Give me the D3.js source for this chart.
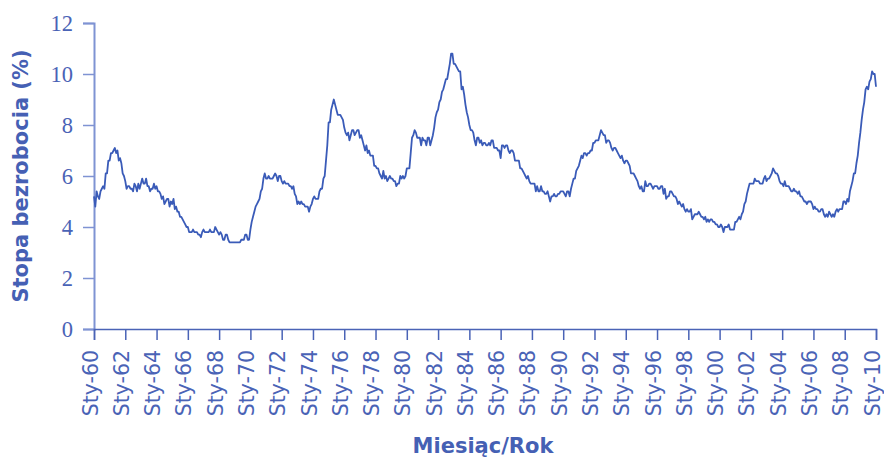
<!DOCTYPE html>
<html>
<head>
<meta charset="utf-8">
<script src="https://cdn.jsdelivr.net/npm/d3@7"></script>
<style>
  html, body { margin: 0; padding: 0; background: #fff; }
  svg { display: block; }
</style>
</head>
<body>
<svg id="chart" width="884" height="458"></svg>
<script>
// Monthly unemployment rate (%), starting Jan 1960
const u1960s = [
  5.2,4.8,5.4,5.2,5.1,5.4,5.5,5.6,5.5,6.1,6.1,6.6,
  6.6,6.9,6.9,7.0,7.1,6.9,7.0,6.6,6.7,6.5,6.1,6.0,
  5.8,5.5,5.6,5.6,5.5,5.5,5.4,5.7,5.6,5.4,5.7,5.5,
  5.7,5.9,5.7,5.7,5.9,5.6,5.6,5.4,5.5,5.5,5.7,5.5,
  5.6,5.4,5.4,5.3,5.1,5.2,4.9,5.0,5.1,5.1,4.8,5.0,
  4.9,5.1,4.7,4.8,4.6,4.6,4.4,4.4,4.3,4.2,4.1,4.0,
  4.0,3.8,3.8,3.8,3.9,3.8,3.8,3.8,3.7,3.7,3.6,3.8,
  3.9,3.8,3.8,3.8,3.8,3.9,3.8,3.8,3.8,4.0,3.9,3.8,
  3.7,3.8,3.7,3.5,3.5,3.7,3.7,3.5,3.4,3.4,3.4,3.4,
  3.4,3.4,3.4,3.4,3.4,3.5,3.5,3.5,3.7,3.7,3.5,3.5
];
const u1970s = [
  3.9,4.2,4.4,4.6,4.8,4.9,5.0,5.1,5.4,5.5,5.9,6.1,
  5.9,5.9,6.0,5.9,5.9,5.9,6.0,6.1,6.0,5.8,6.0,6.0,
  5.8,5.7,5.8,5.7,5.7,5.7,5.6,5.6,5.5,5.6,5.3,5.2,
  4.9,5.0,4.9,5.0,4.9,4.9,4.8,4.8,4.8,4.6,4.8,4.9,
  5.1,5.2,5.1,5.1,5.1,5.4,5.5,5.5,5.9,6.0,6.6,7.2,
  8.1,8.1,8.6,8.8,9.0,8.8,8.6,8.4,8.4,8.4,8.3,8.2,
  7.9,7.7,7.6,7.7,7.4,7.6,7.8,7.8,7.6,7.7,7.8,7.8,
  7.5,7.6,7.4,7.2,7.0,7.2,6.9,7.0,6.8,6.8,6.8,6.4,
  6.4,6.3,6.3,6.1,6.0,5.9,6.2,5.9,6.0,5.8,5.9,6.0,
  5.9,5.9,5.8,5.8,5.6,5.7,5.7,6.0,5.9,6.0,5.9,6.0
];
const u1980s = [
  6.3,6.3,6.3,6.9,7.5,7.6,7.8,7.7,7.5,7.5,7.5,7.2,
  7.5,7.4,7.4,7.2,7.5,7.5,7.2,7.4,7.6,7.9,8.3,8.5,
  8.6,8.9,9.0,9.3,9.4,9.6,9.8,9.8,10.1,10.4,10.8,10.8,
  10.4,10.4,10.3,10.2,10.1,10.1,9.4,9.5,9.2,8.8,8.5,8.3,
  8.0,7.8,7.8,7.7,7.4,7.2,7.5,7.5,7.3,7.4,7.2,7.3,
  7.3,7.2,7.2,7.3,7.2,7.4,7.4,7.1,7.1,7.1,7.0,7.0,
  6.7,7.2,7.2,7.1,7.2,7.2,7.0,6.9,7.0,7.0,6.9,6.6,
  6.6,6.6,6.6,6.3,6.3,6.2,6.1,6.0,5.9,6.0,5.8,5.7,
  5.7,5.7,5.7,5.4,5.6,5.4,5.4,5.6,5.4,5.4,5.3,5.3,
  5.4,5.2,5.0,5.2,5.2,5.3,5.2,5.2,5.3,5.3,5.4,5.4
];
const u1990s = [
  5.4,5.3,5.2,5.4,5.4,5.2,5.5,5.7,5.9,5.9,6.2,6.3,
  6.4,6.6,6.8,6.7,6.9,6.9,6.8,6.9,6.9,7.0,7.0,7.3,
  7.3,7.4,7.4,7.4,7.6,7.8,7.7,7.6,7.6,7.3,7.4,7.4,
  7.3,7.1,7.0,7.1,7.1,7.0,6.9,6.8,6.7,6.8,6.6,6.5,
  6.6,6.6,6.5,6.4,6.1,6.1,6.1,6.0,5.9,5.8,5.6,5.5,
  5.6,5.4,5.4,5.8,5.6,5.6,5.7,5.7,5.6,5.5,5.6,5.6,
  5.6,5.5,5.5,5.6,5.6,5.3,5.5,5.1,5.2,5.2,5.4,5.4,
  5.3,5.2,5.2,5.1,4.9,5.0,4.9,4.8,4.9,4.7,4.6,4.7,
  4.6,4.6,4.7,4.3,4.4,4.5,4.5,4.5,4.6,4.5,4.4,4.4,
  4.3,4.4,4.2,4.3,4.2,4.3,4.3,4.2,4.2,4.1,4.1,4.0
];
const u2000s = [
  4.0,4.1,4.0,3.8,4.0,4.0,4.0,4.1,3.9,3.9,3.9,3.9,
  4.2,4.2,4.3,4.4,4.3,4.5,4.6,4.9,5.0,5.3,5.5,5.7,
  5.7,5.7,5.7,5.9,5.8,5.8,5.8,5.7,5.7,5.7,5.9,6.0,
  5.8,5.9,5.9,6.0,6.1,6.3,6.2,6.1,6.1,6.0,5.8,5.7,
  5.7,5.6,5.8,5.6,5.6,5.6,5.5,5.4,5.4,5.5,5.4,5.4,
  5.3,5.4,5.2,5.2,5.1,5.0,5.0,4.9,5.0,5.0,5.0,4.9,
  4.7,4.8,4.7,4.7,4.6,4.6,4.7,4.7,4.5,4.4,4.5,4.4,
  4.6,4.5,4.4,4.5,4.4,4.6,4.7,4.6,4.7,4.7,4.7,5.0,
  5.0,4.9,5.1,5.0,5.4,5.6,5.8,6.1,6.1,6.5,6.8,7.3,
  7.7,8.2,8.6,8.9,9.4,9.5,9.4,9.7,9.8,10.1,10.0,10.0
];
const u2010s = [9.5];

const yTicks = [0, 2, 4, 6, 8, 10, 12];
const xTickYears = d3.range(1960, 2011, 2);
const xTickLabels = xTickYears.map(yr => "Sty-" + String(yr % 100).padStart(2, "0"));

const values = [].concat(u1960s, u1970s, u1980s, u1990s, u2000s, u2010s);
const data = values.map((v, i) => ({ m: i, v: v }));

const svg = d3.select("#chart");
const pLeft = 94, pRight = 876, pTop = 23, pBottom = 329;

const x = d3.scaleLinear().domain([0, 600]).range([pLeft, pRight]);
const y = d3.scaleLinear().domain([0, 12]).range([pBottom, pTop]);

const textCol = "#4a63b6";

// Y axis
const yAxis = svg.append("g")
  .attr("transform", `translate(${pLeft},0)`)
  .call(d3.axisLeft(y).tickValues(yTicks).tickSize(11).tickPadding(10).tickFormat(d3.format("d")));
yAxis.select(".domain").attr("stroke", "#7f93d3").attr("stroke-width", 2);
yAxis.selectAll(".tick line").attr("stroke", "#7f93d3").attr("stroke-width", 1.5);
yAxis.selectAll(".tick text")
  .attr("fill", textCol)
  .style("font-family", "'Liberation Serif', serif")
  .style("font-size", "22.5px");

// X axis
const xAxis = svg.append("g")
  .attr("transform", `translate(0,${pBottom})`)
  .call(d3.axisBottom(x)
    .tickValues(xTickYears.map(yr => (yr - 1960) * 12))
    .tickSize(11)
    .tickFormat((d, i) => xTickLabels[i]));
xAxis.select(".domain").attr("stroke", "#4a63b6").attr("stroke-width", 1.5);
xAxis.selectAll(".tick line").attr("stroke", "#4a63b6").attr("stroke-width", 1.5);
xAxis.selectAll(".tick text")
  .attr("fill", textCol)
  .style("font-family", "'DejaVu Sans', sans-serif")
  .style("font-size", "20.5px")
  .attr("transform", "rotate(-90)")
  .attr("text-anchor", "end")
  .attr("x", -21)
  .attr("y", 0)
  .attr("dy", "0.15em");

// Line
const line = d3.line().x(d => x(d.m)).y(d => y(d.v));
svg.append("path")
  .datum(data)
  .attr("fill", "none")
  .attr("stroke", "#3a5bb8")
  .attr("stroke-width", 1.8)
  .attr("stroke-linejoin", "round")
  .attr("d", line);

// Titles
svg.append("text")
  .attr("x", 483).attr("y", 453)
  .attr("text-anchor", "middle")
  .attr("fill", "#4560b4")
  .style("font-family", "'DejaVu Sans', sans-serif")
  .style("font-weight", "bold")
  .style("font-size", "21px")
  .text("Miesiąc/Rok");

svg.append("text")
  .attr("transform", `translate(28,${(pTop + pBottom) / 2}) rotate(-90)`)
  .attr("text-anchor", "middle")
  .attr("fill", "#4560b4")
  .style("font-family", "'DejaVu Sans', sans-serif")
  .style("font-weight", "bold")
  .style("font-size", "21px")
  .text("Stopa bezrobocia (%)");
</script>
</body>
</html>
